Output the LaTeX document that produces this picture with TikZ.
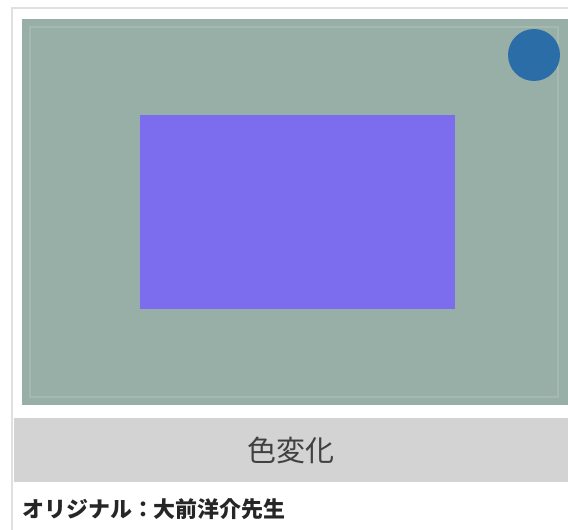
\documentclass[tikz,border=0pt]{standalone}
\usepackage{fontspec}
\setmainfont{Noto Sans CJK JP}
\usetikzlibrary{positioning}
\definecolor{panelgreen}{HTML}{98AFA8}
\definecolor{boxpurple}{HTML}{7C6CEE}
\definecolor{dotblue}{HTML}{2B6DA6}
\definecolor{bandgray}{HTML}{D3D3D3}

\begin{document}
\begin{tikzpicture}[x=0.02cm,y=-0.02cm]

\useasboundingbox[fill=white] (0,0) rectangle (568,530);

\draw[color=black!12,line width=1pt] (12,530)--(12,8)--(568,8);

\fill[panelgreen] (22,19) rectangle (568,405);
\draw[color=white!12!panelgreen,line width=1.5pt] (30,27) rectangle (558,397);

\fill[boxpurple] (140,115) rectangle (455,309);
\fill[dotblue] (534,55) circle (26);

\fill[bandgray] (14,418) rectangle (568,482);
\node (title) at (291,450) {\fontsize{16.5}{20}\selectfont\color{black!75}色変化};

\node[anchor=west] (credit) at (16,509) {\fontsize{12.5}{15}\selectfont\bfseries\color{black!85}オリジナル：大前洋介先生};
\end{tikzpicture}
\end{document}
